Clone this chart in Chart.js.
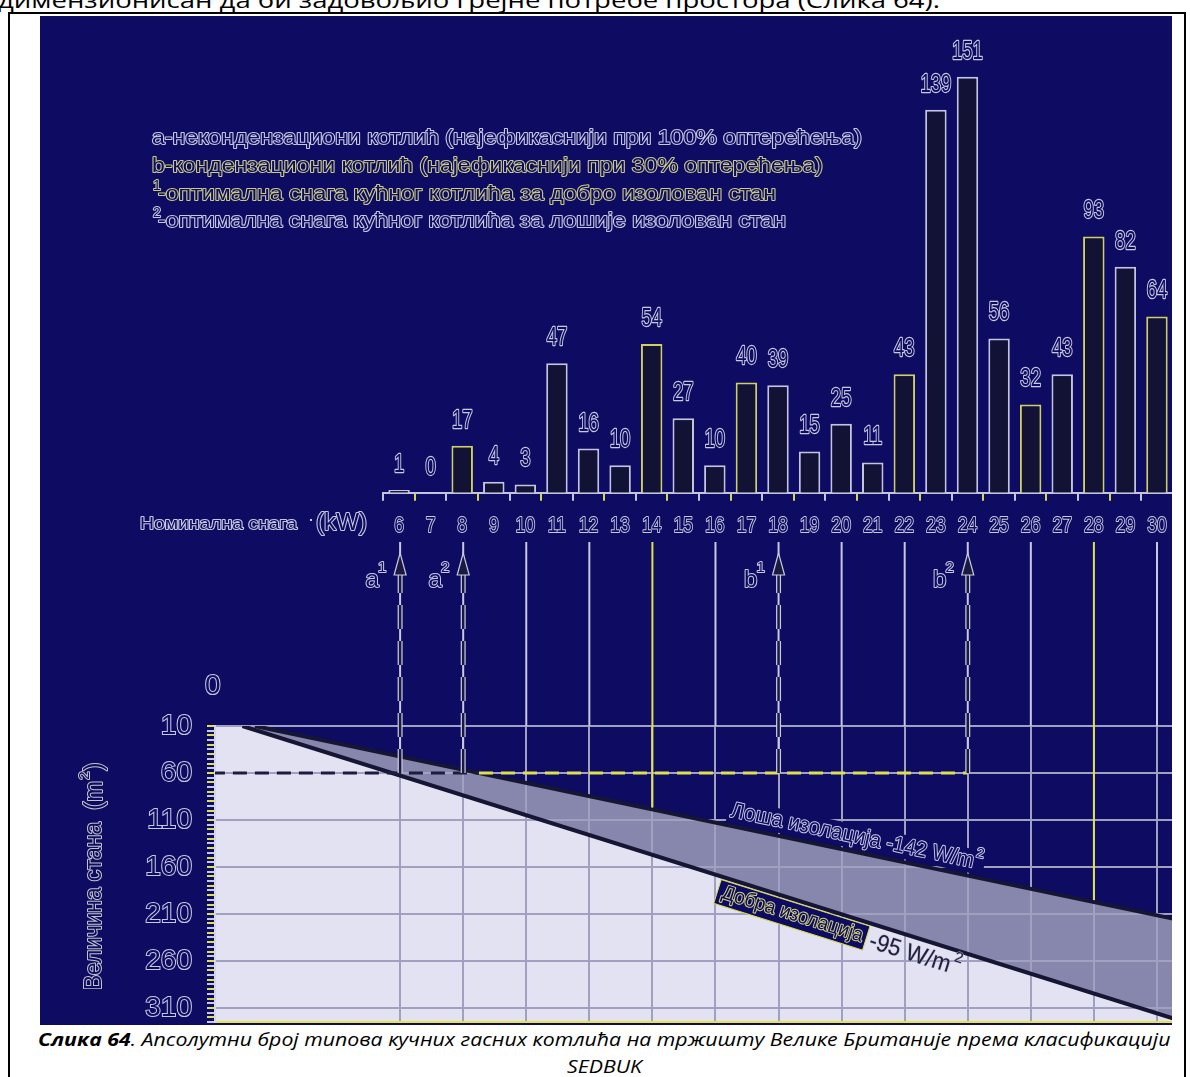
<!DOCTYPE html>
<html>
<head>
<meta charset="utf-8">
<script src="https://cdn.jsdelivr.net/npm/chart.js@4.4.0/dist/chart.umd.min.js"></script>
<style>
  body { margin: 0; width: 1190px; height: 1077px; overflow: hidden; position: relative; background: #fff; font-family: 'Open Sans', sans-serif; }
  #topline { position: absolute; left: -2px; top: -10px; font-size: 21px; line-height: 21px; white-space: nowrap; transform-origin: 0 0; color: #000; }
  #frame { position: absolute; left: 8px; top: 12px; width: 1178px; height: 1100px; border: 2px solid #000; box-sizing: border-box; }
  #plot { position: absolute; left: 40px; top: 16px; width: 1132px; height: 1009px; background: #0d0b62; overflow: hidden; }
  #cA { position: absolute; left: 0; top: 0; }
  #cB { position: absolute; left: 0; top: 524px; }
  .cap { position: absolute; white-space: nowrap; font-style: italic; font-size: 18px; line-height: 22px; transform-origin: 0 0; color: #000; }
</style>
</head>
<body>
<div id="topline">димензионисан да би задовољио грејне потребе простора (Слика 64).</div>
<div id="frame"></div>
<div id="plot">
  <canvas id="cA" width="1133" height="524"></canvas>
  <canvas id="cB" width="1133" height="485"></canvas>
</div>
<div id="cap1" class="cap" style="left:38px;top:1028px"><b>Слика 64</b>. Апсолутни број типова кучних гасних котлића на тржишту Велике Британије према класификацији</div>
<div id="cap2" class="cap" style="left:570px;top:1055px">SEDBUK</div>

<script>
// горњи дијаграм: број типова котлова по номиналној снази
const kwLabels = ['6', '7', '8', '9', '10', '11', '12', '13', '14', '15', '16', '17', '18', '19', '20', '21', '22', '23', '24', '25', '26', '27', '28', '29', '30'];
const boilerCounts = [1, 0, 17, 4, 3, 47, 16, 10, 54, 27, 10, 40, 39, 15, 25, 11, 43, 139, 151, 56, 32, 43, 93, 82, 64];
const yellowEdged = ['8', '14', '17', '22', '26', '28', '30'];

const legendLines = [
  'a-некондензациони котлић (најефикаснији при 100% оптерећења)',
  'b-кондензациони котлић (најефикаснији при 30% оптерећења)',
  '-оптимална снага кућног котлића за добро изолован стан',
  '-оптимална снага кућног котлића за лошије изолован стан'
];
const legendSup = ['', '', '1', '2'];

// доњи дијаграм: површина стана према снази
const gridKw = [6, 8, 10, 12, 14, 16, 18, 20, 22, 24, 26, 28, 30];
const yellowKw = [14, 28];
const goodKw = [0, 1.0, 30.5];
const goodArea = [10, 10, 321];
const poorKw = [0, 1.4, 30.5];
const poorArea = [10, 10, 215];
const refKw = [0, 8.5, 24];
const refArea = [60, 60, 60];
const arrowKw = [6, 8, 18, 24];
const arrowTag = ['a', 'a', 'b', 'b'];
const arrowSup = ['1', '2', '1', '2'];

const NAVY = '#0d0b62', LAV = '#c8c8e0', YEL = '#e0e04a', BARFILL = '#121234', LINE = '#161634', GRIDC = '#a0a0c0';
const AREA_MAX = 325;

function txt(ctx, s, x, y, size, o) {
  o = o || {};
  ctx.save();
  ctx.font = (o.weight || 'normal') + ' ' + size + 'px "Liberation Sans", Arial, sans-serif';
  ctx.textBaseline = 'middle';
  const w = ctx.measureText(s).width;
  const sx = o.fit ? o.fit / w : (o.sx || 1);
  ctx.translate(x, y);
  if (o.rot) ctx.rotate(o.rot);
  const ax = o.align === 'center' ? -w * sx / 2 : (o.align === 'right' ? -w * sx : 0);
  ctx.translate(ax, 0);
  ctx.scale(sx, 1);
  ctx.lineJoin = 'round';
  if (o.stroke !== null) {
    ctx.lineWidth = o.lw || 2;
    ctx.strokeStyle = o.stroke || LAV;
    ctx.strokeText(s, 0, 0);
  }
  ctx.fillStyle = o.fill || NAVY;
  ctx.fillText(s, 0, 0);
  ctx.restore();
  return w * sx;
}

const topDecor = {
  id: 'topDecor',
  afterDraw(chart) {
    const ctx = chart.ctx;
    const rowY = [122, 150, 178, 205];
    const rowFit = [710, 671, 618, 628];
    const rowStroke = [LAV, '#cccc84', '#cccc84', LAV];
    legendLines.forEach((line, i) => {
      const x0 = legendSup[i] ? 118 : 112;
      if (legendSup[i]) txt(ctx, legendSup[i], 113, rowY[i] - 8, 14, { stroke: rowStroke[i] });
      txt(ctx, line, x0, rowY[i], 21, { fit: rowFit[i], stroke: rowStroke[i] });
    });
    // бројеви изнад стубаца
    const meta = chart.getDatasetMeta(0);
    meta.data.forEach((el, i) => {
      txt(ctx, String(boilerCounts[i]), el.x, el.y - 25, 25, { align: 'center', sx: 0.74, lw: 2.4 });
    });
    // ознаке осе
    const xs = chart.scales.x;
    kwLabels.forEach((l, i) => txt(ctx, l, xs.getPixelForTick(i), 510, 22, { align: 'center', sx: 0.8 }));
    txt(ctx, 'Номинална снага', 100, 508, 17, { fit: 157 });
    txt(ctx, '(kW)', 276, 508, 23, { fit: 51 });
    ctx.fillStyle = LAV;
    ctx.fillRect(270, 503, 2, 2);
  }
};

new Chart(document.getElementById('cA'), {
  type: 'bar',
  data: {
    labels: kwLabels,
    datasets: [{
      data: boilerCounts,
      backgroundColor: BARFILL,
      borderColor: kwLabels.map(k => yellowEdged.includes(k) ? '#d0d062' : '#c4c4de'),
      borderWidth: 2,
      borderSkipped: 'bottom',
      barPercentage: 0.68,
      categoryPercentage: 1
    }]
  },
  options: {
    responsive: false,
    animation: false,
    layout: { padding: { left: 343.25, right: 0.25, top: 8.4, bottom: 0 } },
    plugins: { legend: { display: false }, tooltip: { enabled: false } },
    scales: {
      x: {
        ticks: { display: false },
        grid: { offset: true, drawOnChartArea: false, tickLength: 8, lineWidth: 2, color: c => c.index % 2 ? '#d6d650' : '#c4c4de' },
        border: { color: '#c4c4de', width: 2 },
        afterFit: s => { s.height = 47.3; s.paddingLeft = 0; s.paddingRight = 0; }
      },
      y: { display: false, min: 0, max: 170 }
    }
  },
  plugins: [topDecor]
});

const bottomDecor = {
  id: 'bottomDecor',
  afterDraw(chart) {
    const ctx = chart.ctx;
    const xs = chart.scales.x, ys = chart.scales.y;
    const top = chart.chartArea.top;
    const tipY = 13, baseY = 35;
    const poorMeta = chart.getDatasetMeta(3);
    const poorAt = x => {
      const p1 = poorMeta.data[0], p2 = poorMeta.data[1];
      return p1.y + (x - p1.x) * (p2.y - p1.y) / (p2.x - p1.x);
    };
    const y60 = ys.getPixelForValue(refArea[0]);

    // вертикалне линије до осе снаге
    gridKw.forEach(k => {
      const x = xs.getPixelForValue(k);
      const yellow = yellowKw.includes(k);
      ctx.save();
      ctx.strokeStyle = yellow ? YEL : LAV;
      ctx.lineWidth = 2;
      ctx.beginPath();
      ctx.moveTo(x, 2);
      ctx.lineTo(x, arrowKw.includes(k) ? y60 : (yellow ? poorAt(x) - 2 : top));
      ctx.stroke();
      ctx.restore();
    });

    // стрелице a1, a2, b1, b2
    arrowKw.forEach((k, i) => {
      const x = xs.getPixelForValue(k);
      ctx.save();
      ctx.setLineDash([24, 12]);
      ctx.strokeStyle = LAV;
      ctx.lineWidth = 5;
      ctx.beginPath();
      ctx.moveTo(x, y60);
      ctx.lineTo(x, baseY);
      ctx.stroke();
      ctx.strokeStyle = '#1a1a40';
      ctx.lineWidth = 2.5;
      ctx.stroke();
      ctx.setLineDash([]);
      ctx.beginPath();
      ctx.moveTo(x, tipY);
      ctx.lineTo(x - 6, baseY);
      ctx.lineTo(x + 6, baseY);
      ctx.closePath();
      ctx.fillStyle = '#1a1a40';
      ctx.fill();
      ctx.strokeStyle = LAV;
      ctx.lineWidth = 1.2;
      ctx.stroke();
      ctx.restore();
      txt(ctx, arrowTag[i], x - 28, 40, 24, { align: 'center' });
      txt(ctx, arrowSup[i], x - 18, 28, 15, { align: 'center' });
    });

    // "0" изнад вертикалне осе
    txt(ctx, '0', xs.getPixelForValue(0) + 2, 146, 28, { align: 'center' });

    // наслов вертикалне осе
    ctx.save();
    ctx.translate(55, 450);
    ctx.rotate(-Math.PI / 2);
    txt(ctx, 'Величина стана', 0, 0, 23, { fit: 168, stroke: '#c4c4c8' });
    const w1 = txt(ctx, '(m', 180, 0, 25, { stroke: '#c4c4c8' });
    txt(ctx, '2', 181 + w1, -10, 15, { stroke: '#c4c4c8' });
    txt(ctx, ')', 190 + w1, 0, 25, { stroke: '#c4c4c8' });
    ctx.restore();

    // натписи уз линије изолације
    const labelOn = (meta, x0, off) => {
      const p1 = meta.data[0], p2 = meta.data[1];
      const th = Math.atan2(p2.y - p1.y, p2.x - p1.x);
      const yl = p1.y + (x0 - p1.x) * Math.tan(th);
      return { th, x: x0 - off * Math.sin(th), y: yl + off * Math.cos(th) };
    };

    const poor = labelOn(poorMeta, 688, -15);
    ctx.save();
    ctx.translate(poor.x, poor.y);
    ctx.rotate(poor.th);
    ctx.fillStyle = NAVY;
    ctx.fillRect(-3, -12, 262, 24);
    const wp = txt(ctx, 'Лоша изолација -142 W/m', 0, 0, 22, { fit: 248 });
    txt(ctx, '2', wp + 1, -9, 14);
    ctx.restore();

    const good = labelOn(chart.getDatasetMeta(2), 684, 15);
    ctx.save();
    ctx.translate(good.x, good.y);
    ctx.rotate(good.th);
    ctx.fillStyle = NAVY;
    ctx.fillRect(-2, -12, 156, 25);
    ctx.strokeStyle = YEL;
    ctx.lineWidth = 1;
    ctx.strokeRect(-2, -12, 156, 25);
    txt(ctx, 'Добра изолација', 3, 0, 20, { fit: 147, stroke: '#d4d47a' });
    const w9 = txt(ctx, '-95 W/m', 158, 2, 24, { fit: 84, fill: '#20203e', stroke: '#b8b8d0', lw: 1 });
    txt(ctx, '2', 160 + w9, -8, 15, { fill: '#20203e', stroke: '#b8b8d0', lw: 1 });
    ctx.restore();
  }
};

const pts = (xs, ys, from) => xs.map((k, i) => ({ x: k, y: ys[i] })).slice(from || 0);

new Chart(document.getElementById('cB'), {
  type: 'line',
  data: {
    datasets: [
      // површине (само испуна)
      { data: pts(goodKw, goodArea), borderWidth: 0, borderColor: 'rgba(0,0,0,0)', backgroundColor: '#e2e2f2', fill: { value: AREA_MAX }, pointRadius: 0, order: 4 },
      { data: pts(poorKw, poorArea), borderWidth: 0, borderColor: 'rgba(0,0,0,0)', backgroundColor: '#8787ad', fill: { value: AREA_MAX }, pointRadius: 0, order: 5 },
      // линије изолације
      { data: pts(goodKw, goodArea, 1), borderColor: LINE, borderWidth: 4, fill: false, pointRadius: 0, order: 2 },
      { data: pts(poorKw, poorArea, 1), borderColor: LINE, borderWidth: 4, fill: false, pointRadius: 0, order: 3 },
      // испрекидана линија 60 m2
      {
        data: pts(refKw, refArea),
        borderWidth: 3,
        borderDash: [14, 8],
        segment: { borderColor: c => c.p0.parsed.x < 8 ? '#1c1c40' : YEL },
        fill: false,
        pointRadius: 0,
        order: 1
      }
    ]
  },
  options: {
    responsive: false,
    animation: false,
    layout: { padding: { left: 0, right: 0.25, top: 186, bottom: 3 } },
    plugins: { legend: { display: false }, tooltip: { enabled: false }, filler: { drawTime: 'beforeDraw' } },
    scales: {
      x: {
        type: 'linear',
        min: 0.13,
        max: 30.5,
        afterBuildTicks: s => { s.ticks = gridKw.map(v => ({ value: v })); },
        ticks: { display: false },
        grid: { drawTicks: false, lineWidth: 2, color: GRIDC },
        border: { color: '#e6e640', width: 2 },
        afterFit: s => { s.height = 0; s.paddingLeft = 0; s.paddingRight = 0; }
      },
      y: {
        reverse: true,
        min: 10,
        max: AREA_MAX,
        ticks: {
          stepSize: 5,
          maxTicksLimit: 100,
          autoSkip: false,
          padding: 15,
          callback: v => (v - 10) % 50 === 0 ? String(v) : '',
          font: { family: 'Liberation Sans', size: 28 },
          color: NAVY,
          textStrokeColor: LAV,
          textStrokeWidth: 2
        },
        grid: {
          tickLength: 8,
          lineWidth: 2,
          color: c => (c.tick.value - 10) % 50 === 0 ? GRIDC : 'rgba(0,0,0,0)',
          tickColor: c => c.index % 2 ? YEL : LAV
        },
        border: { color: '#d4d4ec', width: 2 },
        afterFit: s => { s.width = 175; s.paddingTop = 0; s.paddingBottom = 0; }
      }
    }
  },
  plugins: [bottomDecor]
});

// потписи испод слике
function fitText(el, width) {
  const w = el.scrollWidth;
  const s = width / w;
  el.style.transform = 'scaleX(' + s + ')';
  return { w, s };
}
fitText(document.getElementById('topline'), 942);
const c1 = fitText(document.getElementById('cap1'), 1132);
const cap2 = document.getElementById('cap2');
const w2 = cap2.scrollWidth;
cap2.style.transform = 'scaleX(' + c1.s + ')';
cap2.style.left = (604 - w2 * c1.s / 2) + 'px';
</script>
</body>
</html>
